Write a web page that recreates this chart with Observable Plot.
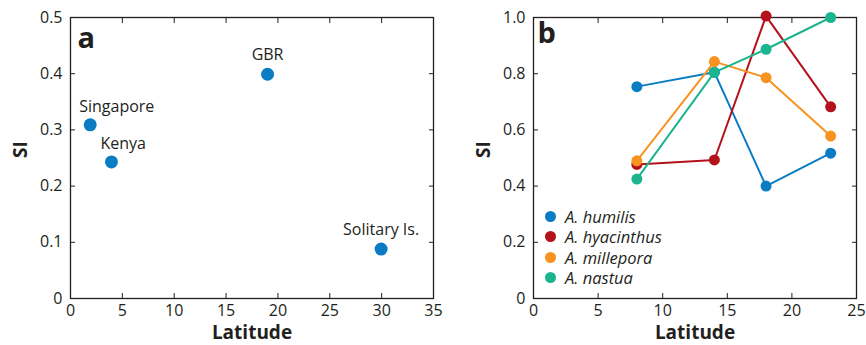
<!DOCTYPE html>
<html><head><meta charset="utf-8">
<script src="https://cdn.jsdelivr.net/npm/d3@7"></script>
<script src="https://cdn.jsdelivr.net/npm/@observablehq/plot@0.6"></script>
<style>
body{margin:0;background:#fff;}
#wrap{position:relative;width:866px;height:345px;display:flex;overflow:hidden;background:#fff;}
#wrap svg{display:block;overflow:visible;}
#pa{position:relative;z-index:2;}
#pb{position:relative;z-index:1;}
#legend{position:absolute;z-index:3;left:545px;top:206px;font-family:"Open Sans",sans-serif;font-size:16.5px;line-height:19px;font-style:italic;color:#231f20;}
#legend div{display:flex;align-items:center;height:20.5px;}
#legend span.dot{display:inline-block;width:11px;height:11px;border-radius:50%;margin-right:9px;}
</style>
</head><body>
<div id="wrap"><div id="pa"></div><div id="pb"></div><div id="legend"></div></div>
<script>
// Panel a data
const sites = ["Singapore", "Kenya", "GBR", "Solitary Is."];
const siteLat = [1.9, 3.95, 19, 29.95];
const siteSI = [0.309, 0.243, 0.399, 0.088];
const xTicksA = [0, 5, 10, 15, 20, 25, 30, 35];
const yTicksA = [0, 0.1, 0.2, 0.3, 0.4, 0.5];

// Panel b data
const species = ["A. humilis", "A. hyacinthus", "A. millepora", "A. nastua"];
const latB = [8, 14, 18, 23];
const humilis = [0.754, 0.805, 0.40, 0.517];
const hyacinthus = [0.477, 0.493, 1.005, 0.682];
const millepora = [0.490, 0.843, 0.786, 0.578];
const nastua = [0.425, 0.805, 0.887, 1.0];
const speciesColors = ["#0a7cc4", "#b3121b", "#f7931e", "#1bb48e"];
const xTicksB = [0, 5, 10, 15, 20, 25];
const yTicksB = [0, 0.2, 0.4, 0.6, 0.8, 1.0];

const ink = "#231f20";
const font = '"Open Sans", sans-serif';
const fmtY = d => d === 0 ? "0" : d.toFixed(1);

const tableA = sites.map((s, i) => ({site: s, lat: siteLat[i], si: siteSI[i]}));
const seriesB = [humilis, hyacinthus, millepora, nastua];
const tableB = species.flatMap((sp, j) => latB.map((l, i) => ({species: sp, lat: l, si: seriesB[j][i]})));

function frameAxes(xt, yt) {
  return [
    Plot.axisX(xt, {anchor: "bottom", tickSize: -5, tickPadding: 11, tickFormat: d => String(d), fontSize: 16, fill: ink, stroke: ink, label: null}),
    Plot.axisX(xt, {anchor: "top", tickSize: -5, tickFormat: () => "", stroke: ink, label: null}),
    Plot.axisY(yt, {anchor: "left", tickSize: -5, tickPadding: 13, tickFormat: fmtY, fontSize: 16, fill: ink, stroke: ink, label: null}),
    Plot.axisY(yt, {anchor: "right", tickSize: -5, tickFormat: () => "", stroke: ink, label: null}),
    Plot.frame({stroke: ink, strokeWidth: 1.3})
  ];
}

const plotA = Plot.plot({
  width: 440, height: 345,
  marginLeft: 70, marginRight: 7, marginTop: 17, marginBottom: 47,
  style: {fontFamily: font, color: ink, background: "transparent", overflow: "visible"},
  x: {domain: [0, 35]},
  y: {domain: [0, 0.5]},
  marks: [
    ...frameAxes(xTicksA, yTicksA),
    Plot.dot(tableA, {x: "lat", y: "si", r: 6.5, fill: "#0a7cc4"}),
    Plot.text(tableA.filter(d => d.site === "Singapore" || d.site === "Kenya"), {x: "lat", y: "si", text: "site", textAnchor: "start", dx: -11, dy: -18, fontSize: 16, fill: ink}),
    Plot.text(tableA.filter(d => d.site === "GBR" || d.site === "Solitary Is."), {x: "lat", y: "si", text: "site", dy: -19, fontSize: 16, fill: ink}),
    Plot.text(["a"], {frameAnchor: "top-left", dx: 7, dy: 10, textAnchor: "start", lineAnchor: "top", fontSize: 29, fontWeight: "bold", fill: ink}),
    Plot.text(["Latitude"], {frameAnchor: "bottom", dy: 40, fontSize: 19, fontWeight: "bold", fill: ink}),
    Plot.text(["SI"], {frameAnchor: "left", dx: -50, rotate: -90, fontSize: 19, fontWeight: "bold", fill: ink})
  ]
});

const plotB = Plot.plot({
  width: 426, height: 345,
  marginLeft: 93, marginRight: 10, marginTop: 17, marginBottom: 47,
  style: {fontFamily: font, color: ink, background: "transparent", overflow: "visible"},
  x: {domain: [0, 25]},
  y: {domain: [0, 1.0]},
  color: {domain: species, range: speciesColors},
  marks: [
    ...frameAxes(xTicksB, yTicksB),
    Plot.line(tableB, {x: "lat", y: "si", z: "species", stroke: "species", strokeWidth: 2}),
    Plot.dot(tableB, {x: "lat", y: "si", fill: "species", r: 5.5}),
    Plot.text(["b"], {frameAnchor: "top-left", dx: 4, dy: 5, textAnchor: "start", lineAnchor: "top", fontSize: 29, fontWeight: "bold", fill: ink}),
    Plot.text(["Latitude"], {frameAnchor: "bottom", dy: 40, fontSize: 19, fontWeight: "bold", fill: ink}),
    Plot.text(["SI"], {frameAnchor: "left", dx: -50, rotate: -90, fontSize: 19, fontWeight: "bold", fill: ink})
  ]
});

document.getElementById("pa").appendChild(plotA);
document.getElementById("pb").appendChild(plotB);

const leg = document.getElementById("legend");
species.forEach((sp, i) => {
  const row = document.createElement("div");
  const dot = document.createElement("span");
  dot.className = "dot";
  dot.style.background = speciesColors[i];
  row.appendChild(dot);
  const t = document.createElement("span");
  t.textContent = sp;
  row.appendChild(t);
  leg.appendChild(row);
});
</script>
</body></html>
